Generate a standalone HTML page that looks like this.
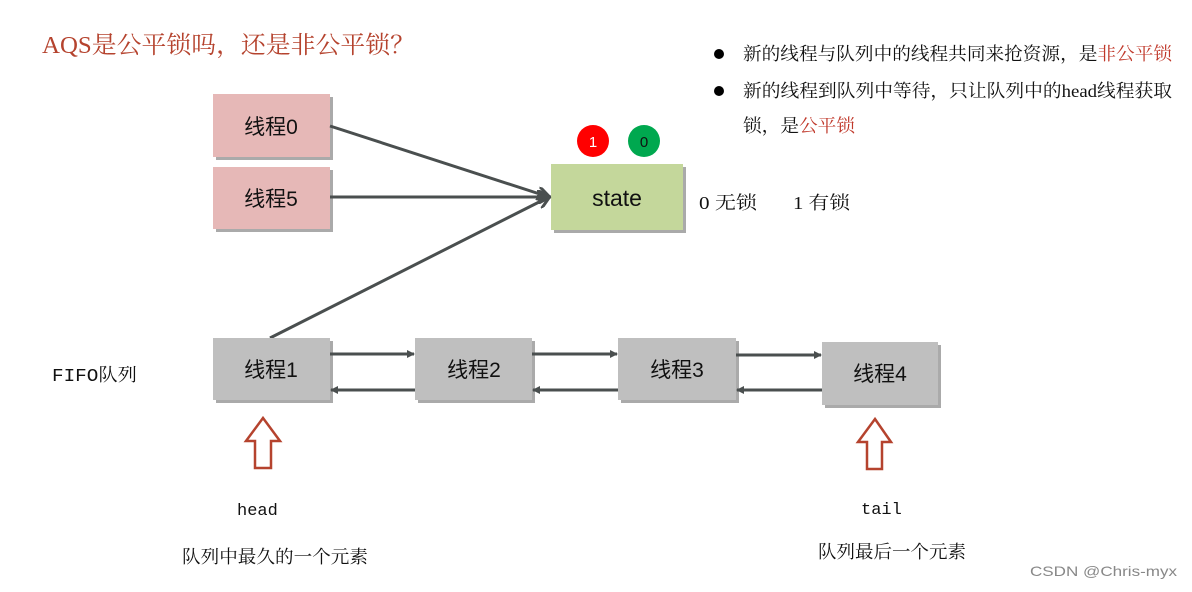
<!DOCTYPE html>
<html><head><meta charset="utf-8"><style>
html,body{margin:0;padding:0;background:#fff}
svg text{font-family:"Liberation Sans","Noto Sans CJK SC",sans-serif}
.serif{font-family:"Liberation Serif","Noto Serif CJK SC",serif !important}
.mono{font-family:"Liberation Mono","Noto Serif CJK SC",monospace !important}
</style></head><body>
<svg width="1192" height="587" viewBox="0 0 1192 587" xmlns="http://www.w3.org/2000/svg">
<defs>
<marker id="ah" markerWidth="8" markerHeight="8" refX="7" refY="4" orient="auto" markerUnits="userSpaceOnUse"><path d="M0,0 L8,4 L0,8 z" fill="#4a4f4f"/></marker>
<marker id="ah2" markerWidth="14" markerHeight="14" refX="12" refY="7" orient="auto" markerUnits="userSpaceOnUse"><path d="M0,0 L13,7 L0,14" fill="none" stroke="#4a4f4f" stroke-width="3"/></marker>
</defs>
<text x="42" y="53" font-size="24" fill="#b5432e" class="serif" textLength="373" lengthAdjust="spacingAndGlyphs">AQS是公平锁吗，还是非公平锁？</text>

<circle cx="719" cy="54" r="5" fill="#000"/>
<text x="743" y="60" font-size="18" class="serif" fill="#111" textLength="429" lengthAdjust="spacingAndGlyphs">新的线程与队列中的线程共同来抢资源，是<tspan fill="#c0392b">非公平锁</tspan></text>
<circle cx="719" cy="91" r="5" fill="#000"/>
<text x="743" y="97" font-size="18" class="serif" fill="#111" textLength="429" lengthAdjust="spacingAndGlyphs">新的线程到队列中等待，只让队列中的head线程获取</text>
<text x="743" y="132" font-size="18" class="serif" fill="#111" textLength="112" lengthAdjust="spacingAndGlyphs">锁，是<tspan fill="#c0392b">公平锁</tspan></text>
<text x="699" y="209" font-size="18" class="serif" fill="#111" textLength="58" lengthAdjust="spacingAndGlyphs">0 无锁</text>
<text x="793" y="209" font-size="18" class="serif" fill="#111" textLength="57" lengthAdjust="spacingAndGlyphs">1 有锁</text>

<g fill="#aaa"><rect x="216" y="97" width="117" height="63"/><rect x="216" y="170" width="117" height="62"/><rect x="554" y="167" width="132" height="66"/>
<rect x="216" y="341" width="117" height="62"/><rect x="418" y="341" width="117" height="62"/><rect x="621" y="341" width="118" height="62"/><rect x="825" y="345" width="116" height="63"/></g>
<rect x="213" y="94" width="117" height="63" fill="#e6b8b7"/>
<rect x="213" y="167" width="117" height="62" fill="#e6b8b7"/>
<rect x="551" y="164" width="132" height="66" fill="#c4d79b"/>
<text x="271" y="134" font-size="21" text-anchor="middle" fill="#111">线程0</text>
<text x="271" y="206" font-size="21" text-anchor="middle" fill="#111">线程5</text>
<text x="617" y="206" font-size="23" text-anchor="middle" fill="#111">state</text>
<circle cx="593" cy="141" r="16" fill="#ff0000"/>
<circle cx="644" cy="141" r="16" fill="#00a84f"/>
<text x="593" y="147" font-size="15" text-anchor="middle" fill="#fff">1</text>
<text x="644" y="147" font-size="15" text-anchor="middle" fill="#111">0</text>

<g stroke="#4a4f4f" stroke-width="3" fill="none">
<line x1="330" y1="126" x2="549" y2="197" marker-end="url(#ah2)"/>
<line x1="330" y1="197" x2="549" y2="197" marker-end="url(#ah2)"/>
<line x1="270" y1="338" x2="549" y2="197" marker-end="url(#ah2)"/>
</g>

<rect x="213" y="338" width="117" height="62" fill="#bfbfbf"/>
<rect x="415" y="338" width="117" height="62" fill="#bfbfbf"/>
<rect x="618" y="338" width="118" height="62" fill="#bfbfbf"/>
<rect x="822" y="342" width="116" height="63" fill="#bfbfbf"/>
<text x="271" y="377" font-size="21" text-anchor="middle" fill="#111">线程1</text>
<text x="474" y="377" font-size="21" text-anchor="middle" fill="#111">线程2</text>
<text x="677" y="377" font-size="21" text-anchor="middle" fill="#111">线程3</text>
<text x="880" y="381" font-size="21" text-anchor="middle" fill="#111">线程4</text>

<g stroke="#4a4f4f" stroke-width="3">
<line x1="330" y1="354" x2="414" y2="354" marker-end="url(#ah)"/>
<line x1="415" y1="390" x2="331" y2="390" marker-end="url(#ah)"/>
<line x1="532" y1="354" x2="617" y2="354" marker-end="url(#ah)"/>
<line x1="618" y1="390" x2="533" y2="390" marker-end="url(#ah)"/>
<line x1="736" y1="355" x2="821" y2="355" marker-end="url(#ah)"/>
<line x1="822" y1="390" x2="737" y2="390" marker-end="url(#ah)"/>
</g>

<path d="M263,418 L280,441 L271,441 L271,468 L255,468 L255,441 L246,441 Z" fill="#fff" stroke="#b5432e" stroke-width="2.5"/>
<path d="M875,419 L891,442 L882,442 L882,469 L867,469 L867,442 L858,442 Z" fill="#fff" stroke="#b5432e" stroke-width="2.5"/>

<text x="52" y="381" font-size="18" class="mono" fill="#111" textLength="85" lengthAdjust="spacingAndGlyphs">FIFO队列</text>
<text x="237" y="515" font-size="17" class="mono" fill="#111">head</text>
<text x="861" y="514" font-size="17" class="mono" fill="#111">tail</text>
<text x="182" y="563" font-size="18" class="serif" fill="#111" textLength="186" lengthAdjust="spacingAndGlyphs">队列中最久的一个元素</text>
<text x="818" y="558" font-size="18" class="serif" fill="#111" textLength="148" lengthAdjust="spacingAndGlyphs">队列最后一个元素</text>
<text x="1030" y="576" font-size="14" fill="#888" textLength="147" lengthAdjust="spacingAndGlyphs">CSDN @Chris-myx</text>
</svg>
</body></html>
